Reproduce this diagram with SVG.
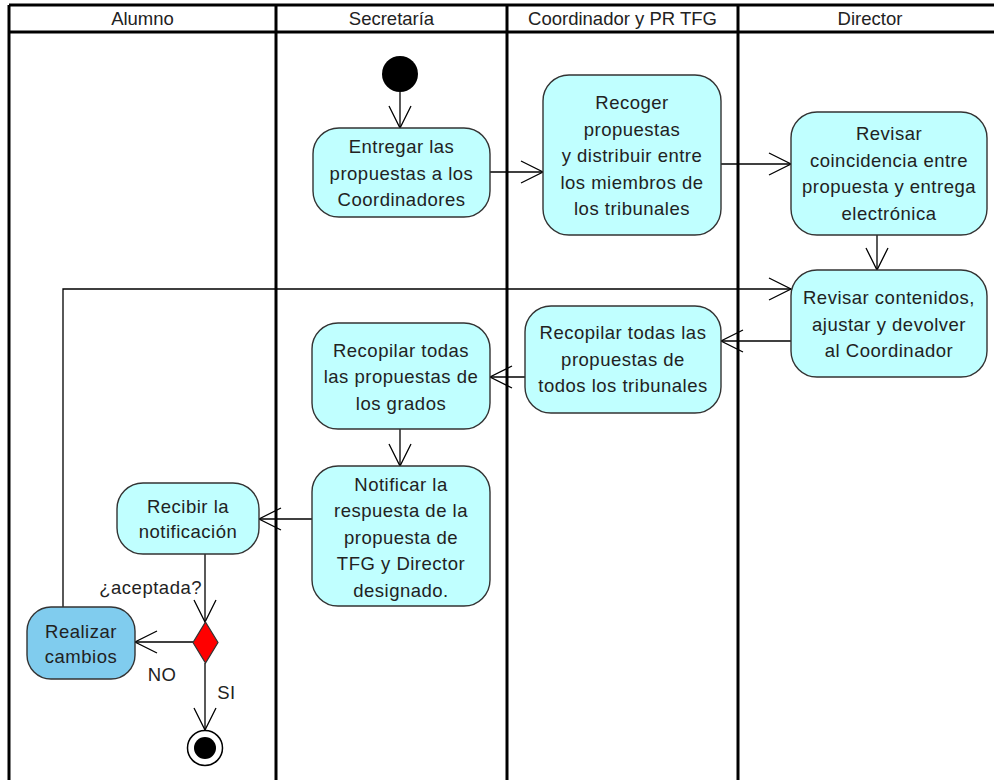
<svg xmlns="http://www.w3.org/2000/svg" width="994" height="780" viewBox="0 0 994 780">
  <defs>
    <marker id="open" markerUnits="userSpaceOnUse" viewBox="-24 -13 26 26" refX="0" refY="0" markerWidth="26" markerHeight="26" orient="auto">
      <path d="M-22,-11 L0,0 L-22,11" fill="none" stroke="#000" stroke-width="1.3"/>
    </marker>
  </defs>
  <style>
    text { font-family: "Liberation Sans", Arial, sans-serif; font-size: 18.5px; fill: #222; text-anchor: middle; }
    .act text { letter-spacing: 0.5px; }
    .lane { stroke: #000; stroke-width: 3; fill: none; }
    .act rect { fill: #c0ffff; stroke: #333; stroke-width: 1.4; }
    .act.alt rect { fill: #80ccee; }
    .edge { fill: none; stroke: #000; stroke-width: 1.3; marker-end: url(#open); }
    .lbl { letter-spacing: 0.5px; }
  </style>
  <rect width="994" height="780" fill="#fff"/>

  <!-- swimlanes -->
  <g id="lanes">
    <path class="lane" d="M9,5 H994 M9,32 H994 M9,5 V780 M276,5 V780 M507,5 V780 M738,5 V780"/>
    <text x="142.5" y="25">Alumno</text>
    <text x="391.5" y="25">Secretaría</text>
    <text x="622.5" y="25">Coordinador y PR TFG</text>
    <text x="870" y="25">Director</text>
  </g>

  <!-- connectors -->
  <g id="connectors">
    <path class="edge" d="M400,92 V128"/>
    <path class="edge" d="M490,172 H543"/>
    <path class="edge" d="M721,164 H791"/>
    <path class="edge" d="M877,235 V270"/>
    <path class="edge" d="M791,341 H721"/>
    <path class="edge" d="M525,377 H490"/>
    <path class="edge" d="M400,429 V466"/>
    <path class="edge" d="M312,519 H259"/>
    <path class="edge" d="M205,554 V622"/>
    <path class="edge" d="M193,642 H135"/>
    <path class="edge" d="M205,663 V730"/>
    <path class="edge" d="M63,607 V289 H791"/>
    <text class="lbl" x="202" y="594" style="text-anchor:end">¿aceptada?</text>
    <text class="lbl" x="162" y="681">NO</text>
    <text class="lbl" x="226.5" y="699">SI</text>
  </g>

  <!-- start / end / decision -->
  <g id="start"><circle cx="400" cy="74" r="18" fill="#000"/></g>
  <g id="end">
    <circle cx="205" cy="748" r="17.5" fill="#fff" stroke="#000" stroke-width="1.5"/>
    <circle cx="205" cy="748" r="11" fill="#000"/>
  </g>
  <g id="decision">
    <path d="M205.5,622 L218,642.5 L205.5,663 L193,642.5 Z" fill="#ff0000" stroke="#333" stroke-width="1.2"/>
  </g>

  <!-- activities -->
  <g id="entregar" class="act">
    <rect x="313" y="128" width="177" height="89" rx="26"/>
    <text x="401.5" y="153">Entregar las</text>
    <text x="401.5" y="179.5">propuestas a los</text>
    <text x="401.5" y="206">Coordinadores</text>
  </g>
  <g id="recoger" class="act">
    <rect x="543" y="75" width="178" height="160" rx="26"/>
    <text x="632" y="109">Recoger</text>
    <text x="632" y="135.5">propuestas</text>
    <text x="632" y="162">y distribuir entre</text>
    <text x="632" y="188.5">los miembros de</text>
    <text x="632" y="215">los tribunales</text>
  </g>
  <g id="coincidencia" class="act">
    <rect x="791" y="112" width="196" height="123" rx="26"/>
    <text x="889" y="140">Revisar</text>
    <text x="889" y="166.5">coincidencia entre</text>
    <text x="889" y="193">propuesta y entrega</text>
    <text x="889" y="219.5">electrónica</text>
  </g>
  <g id="contenidos" class="act">
    <rect x="791" y="270" width="196" height="107" rx="26"/>
    <text x="889" y="304">Revisar contenidos,</text>
    <text x="889" y="330.5">ajustar y devolver</text>
    <text x="889" y="357">al Coordinador</text>
  </g>
  <g id="tribunales" class="act">
    <rect x="525" y="306" width="196" height="107" rx="26"/>
    <text x="623" y="339">Recopilar todas las</text>
    <text x="623" y="365.5">propuestas de</text>
    <text x="623" y="392">todos los tribunales</text>
  </g>
  <g id="grados" class="act">
    <rect x="312" y="323" width="178" height="106" rx="26"/>
    <text x="401" y="356.5">Recopilar todas</text>
    <text x="401" y="383">las propuestas de</text>
    <text x="401" y="409.5">los grados</text>
  </g>
  <g id="notificar" class="act">
    <rect x="312" y="466" width="178" height="140" rx="26"/>
    <text x="401" y="490.5">Notificar la</text>
    <text x="401" y="517">respuesta de la</text>
    <text x="401" y="543.5">propuesta de</text>
    <text x="401" y="570">TFG y Director</text>
    <text x="401" y="596.5">designado.</text>
  </g>
  <g id="recibir" class="act">
    <rect x="117" y="483" width="142" height="71" rx="26"/>
    <text x="188" y="513">Recibir la</text>
    <text x="188" y="538">notificación</text>
  </g>
  <g id="realizar" class="act alt">
    <rect x="27" y="607" width="108" height="72" rx="24"/>
    <text x="81" y="638">Realizar</text>
    <text x="81" y="663">cambios</text>
  </g>
</svg>
